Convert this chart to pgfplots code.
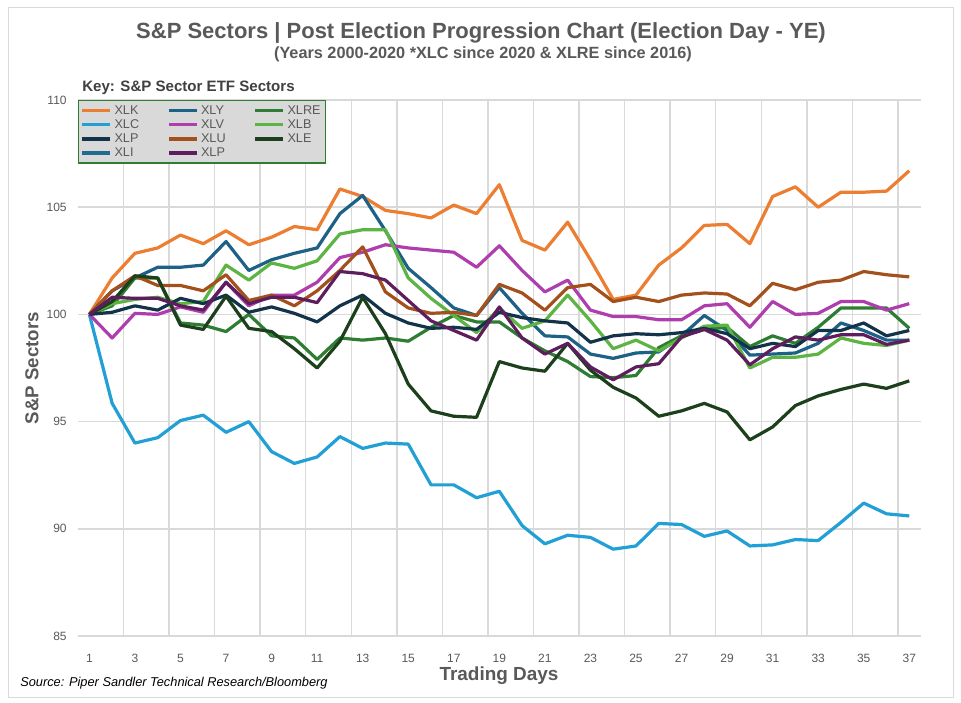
\documentclass[border=0pt]{standalone}
\usepackage{fontspec}
\setmainfont{Liberation Sans}
\usepackage{pgfplots}
\pgfplotsset{compat=1.18}
\usepackage{pgfplotstable}

\definecolor{txtgray}{HTML}{595959}
\definecolor{gridgray}{HTML}{D9D9D9}
\definecolor{cXLK}{HTML}{ED7D31}
\definecolor{cXLC}{HTML}{22A0D6}
\definecolor{cXLPn}{HTML}{123349}
\definecolor{cXLI}{HTML}{236B8E}
\definecolor{cXLY}{HTML}{1E6187}
\definecolor{cXLV}{HTML}{AE3EAE}
\definecolor{cXLU}{HTML}{A3501D}
\definecolor{cXLPp}{HTML}{5E1E5E}
\definecolor{cXLRE}{HTML}{2E7D32}
\definecolor{cXLB}{HTML}{5CB443}
\definecolor{cXLE}{HTML}{1C3F1C}

% Day, then one column per sector
\pgfplotstableread{
d XLK XLC XLPn XLY XLV XLU XLPp XLRE XLB XLE
1 100 100 100 100 100 100 100 100 100 100
2 101.7 95.85 100.1 101.1 98.9 101.1 100.8 100.4 100.5 100.6
3 102.85 94.0 100.4 101.7 100.05 101.8 100.75 101.7 100.7 101.8
4 103.1 94.25 100.2 102.2 100.0 101.35 100.75 101.7 100.8 101.7
5 103.7 95.05 100.75 102.2 100.35 101.35 100.4 99.6 100.5 99.5
6 103.3 95.3 100.5 102.3 100.1 101.1 100.2 99.5 100.6 99.3
7 103.9 94.5 100.9 103.4 101.5 101.85 101.5 99.2 102.3 100.85
8 103.25 95.0 100.1 102.05 100.4 100.65 100.5 100.0 101.6 99.35
9 103.6 93.6 100.35 102.55 100.9 100.9 100.8 99.0 102.4 99.2
10 104.1 93.05 100.05 102.85 100.9 100.4 100.8 98.9 102.15 98.4
11 103.95 93.35 99.65 103.1 101.5 101.1 100.55 97.9 102.5 97.5
12 105.85 94.3 100.4 104.7 102.65 102.05 102.0 98.9 103.75 98.75
13 105.5 93.75 100.9 105.55 102.9 103.15 101.9 98.8 103.95 100.8
14 104.85 94.0 100.05 103.9 103.25 101.05 101.6 98.9 103.95 99.1
15 104.7 93.95 99.6 102.15 103.1 100.3 100.65 98.75 101.7 96.75
16 104.5 92.05 99.35 101.25 103.0 100.05 99.7 99.4 100.75 95.5
17 105.1 92.05 99.4 100.3 102.9 100.1 99.25 99.95 99.95 95.25
18 104.7 91.45 99.3 99.95 102.2 99.95 98.8 99.65 99.15 95.2
19 106.05 91.75 100.1 101.25 103.2 101.4 100.35 99.65 100.3 97.8
20 103.45 90.15 99.85 100.05 102.05 101.0 98.9 98.9 99.35 97.5
21 103.0 89.3 99.7 99.0 101.05 100.2 98.15 98.3 99.7 97.35
22 104.3 89.7 99.6 98.95 101.6 101.25 98.65 97.8 100.9 98.65
23 102.55 89.6 98.7 98.15 100.2 101.4 97.55 97.1 99.7 97.4
24 100.7 89.05 99.0 97.95 99.9 100.6 96.95 97.05 98.4 96.6
25 100.9 89.2 99.1 98.2 99.9 100.8 97.55 97.15 98.8 96.1
26 102.3 90.25 99.05 98.25 99.75 100.6 97.7 98.45 98.3 95.25
27 103.1 90.2 99.15 99.0 99.75 100.9 98.95 99.0 98.9 95.5
28 104.15 89.65 99.35 99.95 100.4 101.0 99.3 99.3 99.45 95.85
29 104.2 89.9 99.1 99.25 100.5 100.95 98.8 99.4 99.5 95.45
30 103.3 89.2 98.4 98.1 99.4 100.4 97.65 98.5 97.5 94.15
31 105.5 89.25 98.65 98.15 100.6 101.45 98.4 99.0 98.0 94.75
32 105.95 89.5 98.5 98.2 100.0 101.15 98.95 98.65 98.0 95.75
33 105.0 89.45 99.25 98.65 100.05 101.5 98.8 99.4 98.15 96.2
34 105.7 90.3 99.25 99.6 100.6 101.6 99.05 100.3 98.9 96.5
35 105.7 91.2 99.6 99.25 100.6 102.0 99.05 100.3 98.65 96.75
36 105.75 90.7 99.0 98.8 100.2 101.85 98.6 100.3 98.55 96.55
37 106.7 90.6 99.25 98.8 100.5 101.75 98.8 99.35 98.8 96.9
}\data

\begin{document}
\begin{tikzpicture}
% page in pixels: 1px = 0.75pt, y grows downwards
\begin{scope}[x=0.75pt,y=-0.75pt]
\fill[white] (0,0) rectangle (961,703);
\draw[gridgray, line width=0.75pt] (8,7) rectangle (953,697);
\node[text=txtgray, font=\bfseries\fontsize{16.5}{19}\selectfont] at (481,33)
  {S\&P Sectors | Post Election Progression Chart (Election Day - YE)};
\node[text=txtgray, font=\bfseries\fontsize{12.2}{14}\selectfont] at (483,54)
  {(Years 2000-2020 *XLC since 2020 \& XLRE since 2016)};
\node[text=black!75, font=\bfseries\fontsize{11.3}{13}\selectfont, anchor=west, inner sep=0pt] at (82,88)
  {Key: S\&P Sector ETF Sectors};
\node[text=txtgray, font=\bfseries\fontsize{14}{16}\selectfont, rotate=90] at (32,368) {S\&P Sectors};
\node[text=txtgray, font=\bfseries\fontsize{14.2}{16}\selectfont] at (499,676) {Trading Days};
\node[text=black, font=\itshape\fontsize{9.6}{11}\selectfont, anchor=west, inner sep=0pt] at (20,683)
  {Source: Piper Sandler Technical Research/Bloomberg};
\end{scope}

\begin{axis}[
  at={(58.5pt,-477pt)}, anchor=south west,
  scale only axis, width=632pt, height=402pt,
  xmin=0.5, xmax=37.5, ymin=85, ymax=110,
  axis line style={draw=none},
  major tick length=0pt,
  xtick={1,3,...,37},
  ytick={85,90,...,110},
  extra x ticks={2.5,4.5,...,36.5},
  extra x tick labels={},
  extra x tick style={grid=major},
  ymajorgrids,
  grid style={gridgray, line width=1.1pt},
  /pgf/number format/assume math mode=true,
  tick label style={text=txtgray, font=\fontsize{9}{10}\selectfont},
  xticklabel style={yshift=-10pt},
  yticklabel style={xshift=-5pt},
  legend columns=3,
  legend cell align=left,
  legend image code/.code={\draw[#1, line width=2.4pt] (0pt,0pt) -- (21pt,0pt);},
  legend style={at={(0,1)}, anchor=north west, fill=gridgray, draw=cXLRE, line width=1pt,
    font=\fontsize{9.5}{10}\selectfont, text=txtgray, inner sep=1.5pt, row sep=-1.5pt,
    /tikz/every even column/.append style={column sep=19pt}},
  every axis plot/.append style={line width=2.4pt, line join=round},
]
\addplot[cXLK] table[x=d, y=XLK] {\data};
\addlegendentry{XLK}
\addplot[cXLY] table[x=d, y=XLY] {\data};
\addlegendentry{XLY}
\addplot[cXLRE] table[x=d, y=XLRE] {\data};
\addlegendentry{XLRE}
\addplot[cXLC] table[x=d, y=XLC] {\data};
\addlegendentry{XLC}
\addplot[cXLV] table[x=d, y=XLV] {\data};
\addlegendentry{XLV}
\addplot[cXLB] table[x=d, y=XLB] {\data};
\addlegendentry{XLB}
\addplot[cXLPn] table[x=d, y=XLPn] {\data};
\addlegendentry{XLP}
\addplot[cXLU] table[x=d, y=XLU] {\data};
\addlegendentry{XLU}
\addplot[cXLE] table[x=d, y=XLE] {\data};
\addlegendentry{XLE}
\addlegendimage{cXLI}
\addlegendentry{XLI}
\addplot[cXLPp] table[x=d, y=XLPp] {\data};
\addlegendentry{XLP}
\end{axis}
\end{tikzpicture}
\end{document}
